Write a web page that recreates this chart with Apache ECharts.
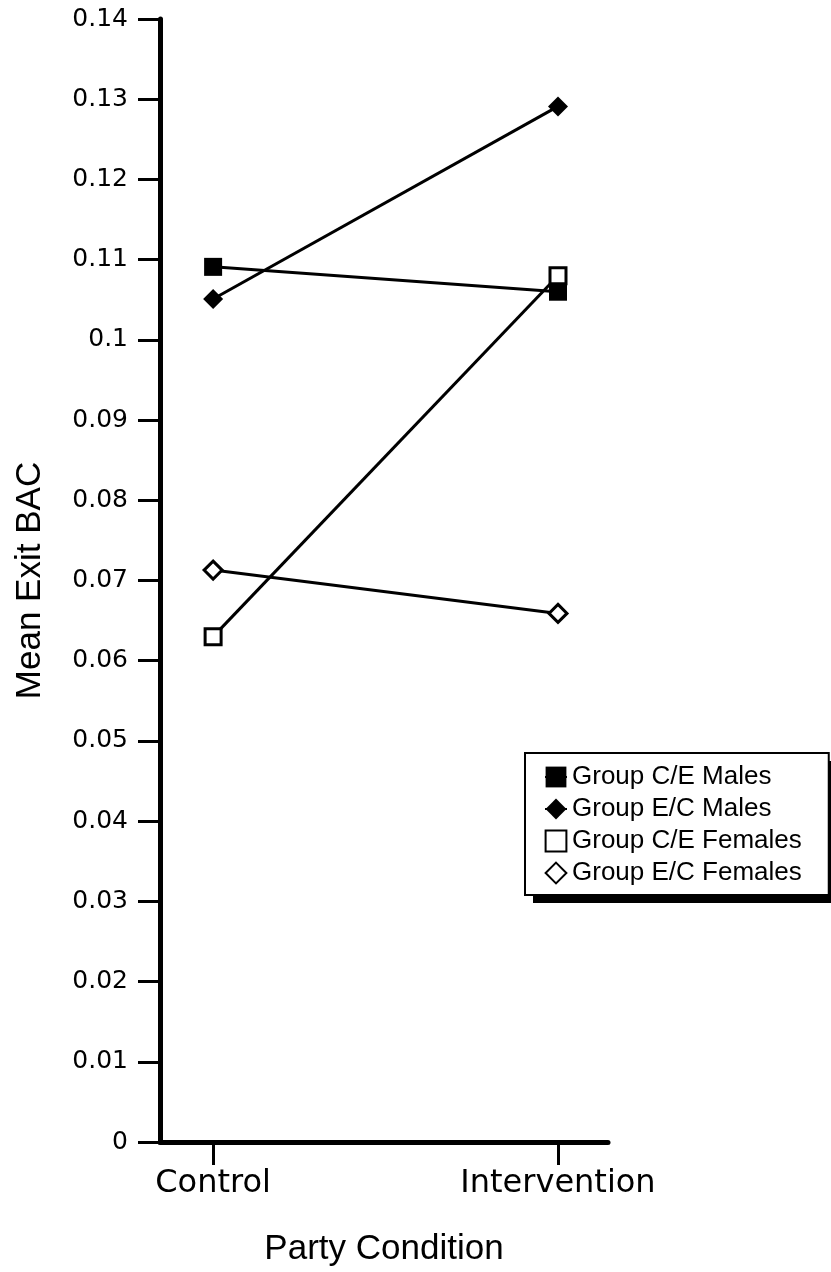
<!DOCTYPE html>
<html>
<head>
<meta charset="utf-8">
<title>Mean Exit BAC by Party Condition</title>
<script src="https://cdn.jsdelivr.net/npm/echarts@6/dist/echarts.min.js"></script>
<style>
  html, body { margin: 0; padding: 0; background: #fff; }
  #chart { width: 831px; height: 1272px; }
</style>
</head>
<body>
<div id="chart"></div>
<script>
// --- data ---
const conditions = ['Control', 'Intervention']
const ceMales = [0.1091, 0.1060]
const ecMales = [0.1051, 0.1291]
const ceFemales = [0.0630, 0.1080]
const ecFemales = [0.0713, 0.0659]
const yTicks = { min: 0, max: 0.14, step: 0.01 }

// pair each value with its condition index (0 = Control, 1 = Intervention)
const toPoints = (vals) => vals.map((v, i) => [i, v])

const labelFont = 'DejaVu Sans'
const textFont = 'Liberation Sans'

const lineSeries = (name, vals, symbol, size, hollow) => ({
  name,
  type: 'line',
  data: toPoints(vals),
  symbol,
  symbolSize: size,
  showAllSymbol: true,
  lineStyle: { color: '#000', width: 3 },
  itemStyle: hollow
    ? { color: '#fff', borderColor: '#000', borderWidth: 3 }
    : { color: '#000', borderColor: '#000', borderWidth: 0 },
  emphasis: { disabled: true },
})

const chart = echarts.init(document.getElementById('chart'))

chart.setOption({
  backgroundColor: '#fff',
  animation: false,
  grid: { left: 160, right: 223, top: 19, bottom: 130 },
  // drop shadow under the legend box (plain decoration)
  graphic: [
    {
      type: 'rect',
      z: 0,
      silent: true,
      shape: { x: 533, y: 761, width: 300, height: 142 },
      style: { fill: '#000' },
    },
  ],
  xAxis: {
    type: 'value',
    min: -0.154,
    max: 1.145,
    name: 'Party Condition',
    nameLocation: 'middle',
    nameGap: 90,
    nameTextStyle: { color: '#000', fontSize: 35, fontFamily: textFont },
    axisLine: { show: true, onZero: false, lineStyle: { color: '#000', width: 5 } },
    axisTick: { show: true, length: 23, customValues: [0, 1], lineStyle: { color: '#000', width: 3 } },
    axisLabel: {
      customValues: [0, 1],
      formatter: (v) => conditions[Math.round(v)],
      color: '#000',
      fontSize: 32,
      fontFamily: labelFont,
      margin: 26,
    },
    splitLine: { show: false },
  },
  yAxis: {
    type: 'value',
    min: yTicks.min,
    max: yTicks.max,
    interval: yTicks.step,
    name: 'Mean Exit BAC',
    nameLocation: 'middle',
    nameGap: 112,
    nameTextStyle: { color: '#000', fontSize: 35, fontFamily: textFont },
    axisLine: { show: true, onZero: false, lineStyle: { color: '#000', width: 5 } },
    axisTick: { show: true, length: 22, lineStyle: { color: '#000', width: 3 } },
    axisLabel: { color: '#000', fontSize: 25, fontFamily: labelFont, margin: 32 },
    splitLine: { show: false },
  },
  legend: {
    orient: 'vertical',
    left: 525,
    top: 753,
    z: 5,
    padding: [11, 27, 9, 19],
    itemWidth: 22,
    itemHeight: 26,
    itemGap: 6,
    backgroundColor: '#fff',
    borderColor: '#000',
    borderWidth: 2,
    borderRadius: 0,
    textStyle: { color: '#000', fontSize: 26, fontFamily: textFont, lineHeight: 26 },
    data: ['Group C/E Males', 'Group E/C Males', 'Group C/E Females', 'Group E/C Females'],
  },
  series: [
    lineSeries('Group C/E Males', ceMales, 'rect', 18, false),
    lineSeries('Group E/C Males', ecMales, 'diamond', 20, false),
    lineSeries('Group C/E Females', ceFemales, 'rect', 16, true),
    lineSeries('Group E/C Females', ecFemales, 'diamond', 18, true),
  ],
})
</script>
</body>
</html>
